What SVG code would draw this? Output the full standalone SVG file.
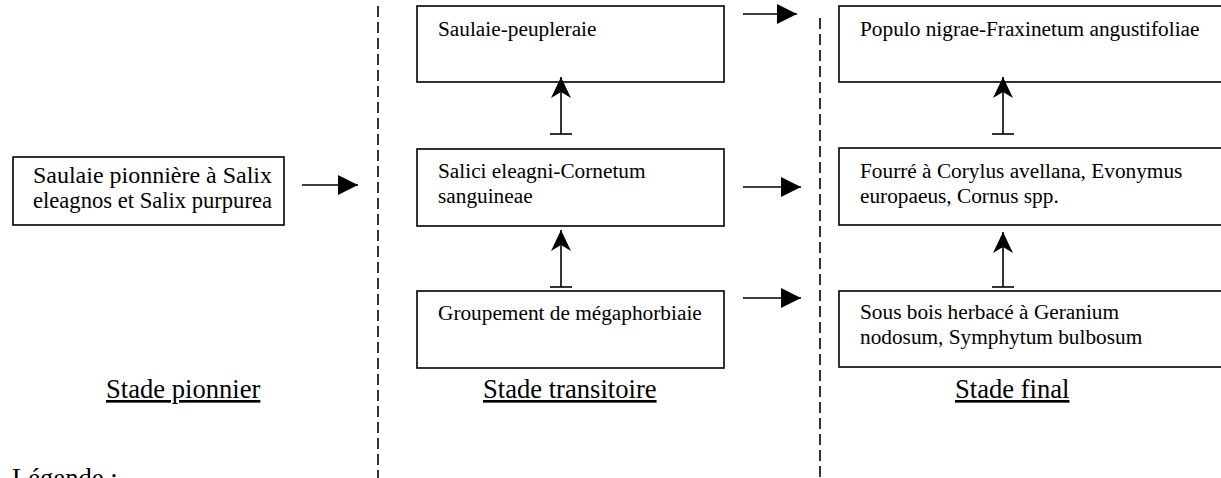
<svg xmlns="http://www.w3.org/2000/svg" width="1221" height="478" viewBox="0 0 1221 478">
<style>
.box{fill:#fff;stroke:#000;stroke-width:1.6}
.t{font-family:"Liberation Serif","Times New Roman",serif;font-size:21.3px;fill:#000}
.t1{font-family:"Liberation Serif","Times New Roman",serif;font-size:23.5px;fill:#000}
.lab{font-family:"Liberation Serif","Times New Roman",serif;font-size:26.6px;fill:#000;text-decoration:underline}
.sep{stroke:#000;stroke-width:1.6;stroke-dasharray:11 5;fill:none}
.ln{stroke:#000;stroke-width:1.6;fill:none}
</style>
<defs>
<marker id="tri" markerWidth="20" markerHeight="20" refX="20" refY="10" orient="auto" markerUnits="userSpaceOnUse" viewBox="0 0 20 20">
<path d="M0,0 L20,10 L0,20 Z" fill="#000"/>
</marker>
<marker id="barb" markerWidth="22" markerHeight="20" refX="21" refY="10" orient="auto" markerUnits="userSpaceOnUse" viewBox="0 0 22 20">
<path d="M0,0 L21,10 L0,20 L6,10 Z" fill="#000"/>
</marker>
</defs>
<g id="separators">
<line class="sep" x1="378" y1="6" x2="378" y2="478"/>
<line class="sep" x1="820" y1="18" x2="820" y2="478"/>
</g>
<g id="n-pionniere">
<rect class="box" x="13" y="157" width="271" height="68"/>
<text class="t1" x="33" y="183" textLength="239" lengthAdjust="spacingAndGlyphs">Saulaie pionnière à Salix</text>
<text class="t1" x="33" y="208" textLength="239" lengthAdjust="spacingAndGlyphs">eleagnos et Salix purpurea</text>
</g>
<g id="n-saulaie-peupleraie">
<rect class="box" x="417" y="6" width="307" height="76"/>
<text class="t" x="438" y="36">Saulaie-peupleraie</text>
</g>
<g id="n-salici">
<rect class="box" x="417" y="149" width="307" height="77"/>
<text class="t" x="438" y="178">Salici eleagni-Cornetum</text>
<text class="t" x="438" y="203">sanguineae</text>
</g>
<g id="n-megaphorbiaie">
<rect class="box" x="417" y="291" width="307" height="77"/>
<text class="t" x="438" y="320">Groupement de mégaphorbiaie</text>
</g>
<g id="n-populo">
<rect class="box" x="839" y="6" width="400" height="76"/>
<text class="t" x="860" y="36">Populo nigrae-Fraxinetum angustifoliae</text>
</g>
<g id="n-fourre">
<rect class="box" x="839" y="148" width="400" height="77"/>
<text class="t" x="860" y="178">Fourré à Corylus avellana, Evonymus</text>
<text class="t" x="860" y="203">europaeus, Cornus spp.</text>
</g>
<g id="n-sousbois">
<rect class="box" x="839" y="291" width="400" height="76"/>
<text class="t" x="860" y="319">Sous bois herbacé à Geranium</text>
<text class="t" x="860" y="344">nodosum, Symphytum bulbosum</text>
</g>
<g id="labels">
<text class="lab" x="106" y="398">Stade pionnier</text>
<text class="lab" x="483" y="398">Stade transitoire</text>
<text class="lab" x="955" y="398">Stade final</text>
<text class="t" style="font-size:26.6px" x="12" y="487">Légende :</text>
</g>
<g id="connectors">
<line class="ln" x1="302" y1="185" x2="358" y2="185" marker-end="url(#tri)"/>
<line class="ln" x1="743" y1="14" x2="797" y2="14" marker-end="url(#tri)"/>
<line class="ln" x1="743" y1="187" x2="801" y2="187" marker-end="url(#tri)"/>
<line class="ln" x1="743" y1="298" x2="801" y2="298" marker-end="url(#tri)"/>
<line class="ln" x1="561" y1="134" x2="561" y2="77" marker-end="url(#barb)"/>
<line class="ln" x1="550" y1="134" x2="572" y2="134"/>
<line class="ln" x1="561" y1="287" x2="561" y2="230" marker-end="url(#barb)"/>
<line class="ln" x1="550" y1="287" x2="572" y2="287"/>
<line class="ln" x1="1003" y1="134" x2="1003" y2="77" marker-end="url(#barb)"/>
<line class="ln" x1="992" y1="134" x2="1014" y2="134"/>
<line class="ln" x1="1003" y1="287" x2="1003" y2="232" marker-end="url(#barb)"/>
<line class="ln" x1="992" y1="287" x2="1014" y2="287"/>
</g>
</svg>
